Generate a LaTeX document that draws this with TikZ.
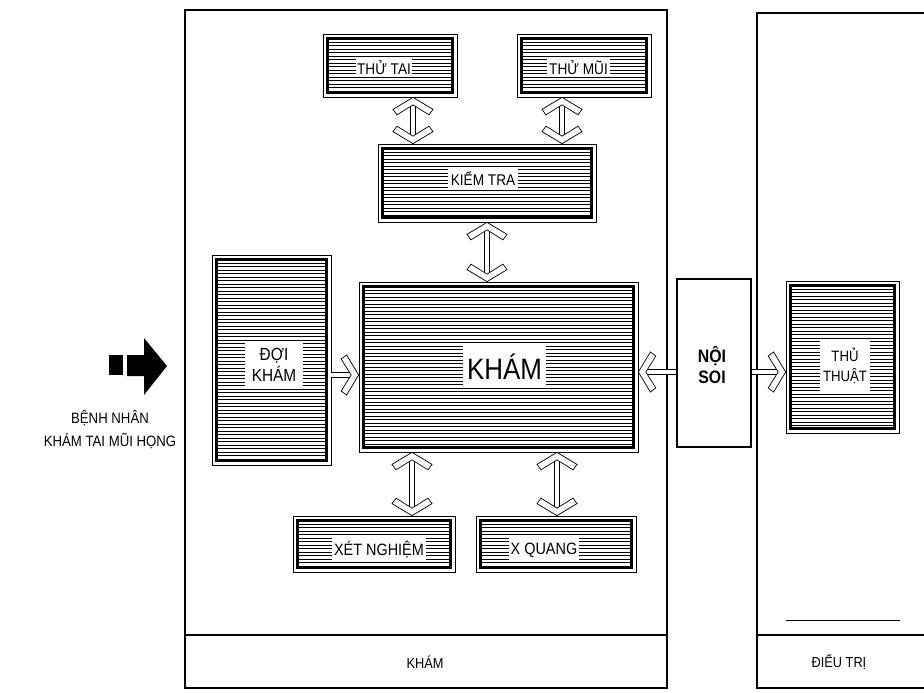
\documentclass[tikz,border=0pt]{standalone}
\usepackage{fontspec}
\setmainfont{Liberation Sans}[FakeStretch=0.88]
\begin{document}
\begin{tikzpicture}[x=1pt,y=-1pt]
\tikzset{
  frame/.style={draw, line width=2pt},
  hbox/.style={draw, line width=0.7pt, fill=white, inner sep=0pt, path picture={
    \coordinate (hnw) at ([shift={(4.5pt,-4.5pt)}]path picture bounding box.north west);
    \coordinate (hse) at ([shift={(-4.5pt,4.5pt)}]path picture bounding box.south east);
    \begin{scope}
      \clip (hnw) rectangle (hse);
      \foreach \k in {1,...,62}{\draw[line width=0.55pt] ([yshift=-\k*3.5pt]hnw) -- ++(300pt,0pt);}
    \end{scope}
    \draw[line width=2.4pt] (hnw) rectangle (hse);
  }},
  lab/.style={fill=white, inner sep=0pt, align=center, font=\fontsize{15.5}{17}\selectfont},
  shaft/.style={double, double distance=4pt, line width=0.7pt},
  chev/.pic={\filldraw[fill=white, line width=0.7pt] (0,0) -- (20,12) -- (16,17.5) -- (0,7.5) -- (-16,17.5) -- (-20,12) -- cycle;},
}
\useasboundingbox (0,0) rectangle (924,693);
\fill[white] (0,0) rectangle (924,693);

% frames
\draw[frame] (185,10) rectangle (667,688);
\draw[frame] (185,635) -- (667,635);
\draw[frame] (926,13) -- (757,13) -- (757,688) -- (926,688);
\draw[frame] (757,635) -- (926,635);
\draw[line width=0.7pt] (786,620) -- (900,620);
\node[font=\fontsize{14.5}{16}\selectfont] (fkham) at (425,662) {KHÁM};
\node[font=\fontsize{14.5}{16}\selectfont] (fdieutri) at (839,662) {ĐIỂU TRỊ};

% patient arrow
\fill (109,355) rectangle (123,375);
\fill (127,355) -- (144,355) -- (144,338) -- (167,366) -- (144,395) -- (144,376) -- (127,376) -- cycle;
\node[align=center, font=\fontsize{15}{23}\selectfont] (patient) at (110,430) {BỆNH NHÂN\\KHÁM TAI MŨI HỌNG};

% boxes
\node[hbox, minimum width=134pt, minimum height=63pt] (thutai) at (390,65.5) {};
\node[hbox, minimum width=134pt, minimum height=63pt] (thumui) at (584,65.5) {};
\node[hbox, minimum width=218pt, minimum height=78pt] (kiemtra) at (487,183) {};
\node[hbox, minimum width=119pt, minimum height=210pt] (doikham) at (271.5,360) {};
\node[hbox, minimum width=279pt, minimum height=170pt] (kham) at (498.5,367) {};
\node[hbox, minimum width=162pt, minimum height=56pt] (xetnghiem) at (374,544) {};
\node[hbox, minimum width=160pt, minimum height=56pt] (xquang) at (556,544) {};
\node[hbox, minimum width=113pt, minimum height=152pt] (thuthuat) at (842.5,357) {};
\node[draw, line width=1.5pt, fill=white, minimum width=74pt, minimum height=168pt] (noisoi) at (714,363) {};

% labels
\node[lab, minimum width=56pt, minimum height=18pt] at (384,68) {THỬ TAI};
\node[lab, minimum width=63pt, minimum height=18pt] at (578.5,68) {THỬ MŨI};
\node[lab, minimum width=70pt, minimum height=23pt] at (483,178.5) {KIỂM TRA};
\node[lab, minimum width=58pt, minimum height=45pt, font=\fontsize{17.5}{21}\selectfont] at (274,364.5) {ĐỢI\\KHÁM};
\node[lab, minimum width=83pt, minimum height=42pt, font=\fontsize{29.5}{32}\selectfont] at (504.5,367) {KHÁM};
\node[lab, minimum width=94pt, minimum height=24pt, font=\fontsize{16.4}{19}\selectfont] at (379,550) {XÉT NGHIỆM};
\node[lab, minimum width=70pt, minimum height=24pt, font=\fontsize{16.4}{19}\selectfont] at (544,550) {X QUANG};
\node[lab, minimum width=50pt, minimum height=52pt, font=\fontsize{15}{20}\selectfont] at (845,366) {THỦ\\THUẬT};
\node[align=center, font=\fontsize{18}{21}\bfseries\selectfont] at (712,365) {NỘI\\SOI};

% vertical double arrows
\coordinate (v1) at (413,0);
\coordinate (v2) at (562,0);
\coordinate (v3) at (487,0);
\coordinate (v4) at (412,0);
\coordinate (v5) at (557,0);
\draw[shaft, shorten <=6pt, shorten >=6pt] (v1 |- thutai.south) -- (v1 |- kiemtra.north);
\pic at (v1 |- thutai.south) {chev};
\pic[rotate=180] at (v1 |- kiemtra.north) {chev};
\draw[shaft, shorten <=6pt, shorten >=6pt] (v2 |- thumui.south) -- (v2 |- kiemtra.north);
\pic at (v2 |- thumui.south) {chev};
\pic[rotate=180] at (v2 |- kiemtra.north) {chev};
\draw[shaft, shorten <=6pt, shorten >=6pt] (v3 |- kiemtra.south) -- (v3 |- kham.north);
\pic at (v3 |- kiemtra.south) {chev};
\pic[rotate=180] at (v3 |- kham.north) {chev};
\draw[shaft, shorten <=6pt, shorten >=6pt] (v4 |- kham.south) -- (v4 |- xetnghiem.north);
\pic at (v4 |- kham.south) {chev};
\pic[rotate=180] at (v4 |- xetnghiem.north) {chev};
\draw[shaft, shorten <=6pt, shorten >=6pt] (v5 |- kham.south) -- (v5 |- xquang.north);
\pic at (v5 |- kham.south) {chev};
\pic[rotate=180] at (v5 |- xquang.north) {chev};

% horizontal arrows
\coordinate (h1) at (0,375);
\coordinate (h2) at (0,372);
\draw[shaft, shorten >=6pt] (h1 -| doikham.east) -- (h1 -| kham.west);
\pic[rotate=-90] at (h1 -| kham.west) {chev};
\draw[shaft, shorten >=6pt] (h2 -| noisoi.west) -- (h2 -| kham.east);
\pic[rotate=90] at (h2 -| kham.east) {chev};
\draw[shaft, shorten >=6pt] (h2 -| noisoi.east) -- (h2 -| thuthuat.west);
\pic[rotate=-90] at (h2 -| thuthuat.west) {chev};
\end{tikzpicture}
\end{document}
